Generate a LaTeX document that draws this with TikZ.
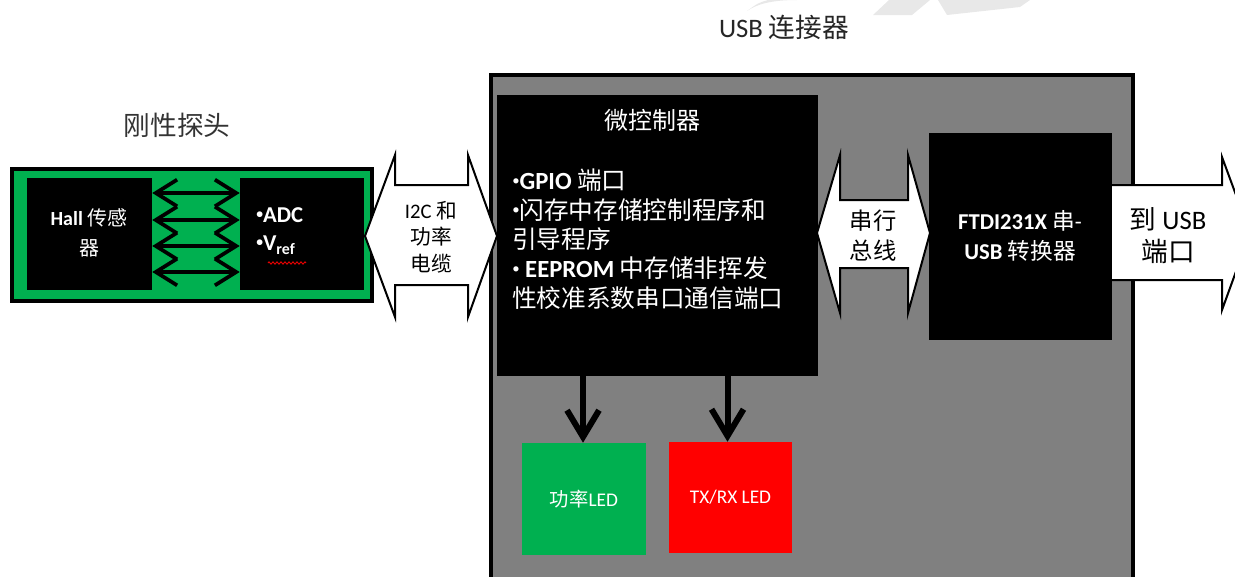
\documentclass[tikz,border=0pt]{standalone}
\usepackage{fontspec}
\setmainfont{Carlito}
\newfontfamily\cjk{Noto Sans CJK SC}
\usetikzlibrary{arrows.meta,calc,decorations.pathmorphing}
\definecolor{pgreen}{RGB}{0,176,80}
\definecolor{pgray}{RGB}{128,128,128}
\definecolor{pred}{RGB}{255,0,0}
\newcommand\mybul{\raisebox{0.18em}{\scalebox{0.6}{•}}}
\begin{document}
\begin{tikzpicture}[x=0.75pt,y=-0.75pt,
  blk/.style={draw=none,fill=black,inner sep=0pt,text=white},
  blockarrow/.style={draw=black,line width=1.5pt,fill=white,line join=miter},
  parrow/.style={line width=2.8pt,{Straight Barb[length=16pt,width=20pt]}-{Straight Barb[length=16pt,width=20pt]}},
  ledarrow/.style={line width=4.5pt,-{Straight Barb[length=20pt,width=24pt]}},
  wtxt/.style={text=white,inner sep=0pt,align=center},
  ktxt/.style={text=black,inner sep=0pt,align=center}]
\useasboundingbox (0,0) rectangle (1235,576);
\clip (0,0) rectangle (1235,576);
% watermark
\fill[gray!18] (747,11) .. controls (757,4) and (772,0) .. (797,0) -- (768,0) .. controls (758,3) .. (747,11) -- cycle;
\fill[gray!18] (873,15) -- (889,0) -- (930,0) -- (912,15) -- cycle;
\fill[gray!18] (947,15) -- (938,0) -- (1030,0) -- (1020,7) -- cycle;
% titles
\node[font=\fontsize{20}{24}\selectfont\cjk,text=black!80] (ptitle) at (177,125) {刚性探头};
\node[font=\fontsize{20}{24}\selectfont,text=black!85] (utitle) at (784,27) {USB {\cjk 连接器}};
% probe
\node[draw=black,line width=2.6pt,fill=pgreen,minimum width=270pt,minimum height=99pt,inner sep=0pt] (probe) at (192,235) {};
\node[blk,minimum width=93.75pt,minimum height=84pt] (hall) at (89.5,234) {};
\node[blk,minimum width=93pt,minimum height=84pt] (adc) at (302,234) {};
\node[wtxt,font=\fontsize{15}{22}\selectfont] (halltxt) at (89,233) {\textbf{Hall} {\cjk 传感}\\{\cjk 器}};
\node[wtxt,anchor=west,align=left,font=\fontsize{17}{21}\selectfont\bfseries] (adctxt) at (256,231) {\mybul ADC\\\mybul V\textsubscript{ref}};
\draw[red,line width=0.6pt,decorate,decoration={zigzag,amplitude=0.9pt,segment length=3pt}] (268,263) -- (306,263);
\foreach \dy in {-41,-14,12,38}{
  \draw[parrow] ($(hall.east)+(0,\dy)$) -- ($(adc.west)+(0,\dy)$);
}
% usb connector
\node[draw=black,line width=3pt,fill=pgray,minimum width=481.5pt,minimum height=400pt,inner sep=0pt,anchor=north west] (usb) at (488.5,72.5) {};
% I2C arrow
\draw[blockarrow] (365,236) -- (395,155) -- (395,185) -- (468,185) -- (468,155) -- (497,236) -- (468,317) -- (468,285) -- (395,285) -- (395,317) -- cycle;
\node[ktxt,font=\fontsize{15.5}{20}\selectfont] (i2ctxt) at (431,237) {I2C {\cjk 和}\\{\cjk 功率}\\{\cjk 电缆}};
% microcontroller
\node[blk,minimum width=240.75pt,minimum height=210.75pt] (micro) at (657.5,235.5) {};
\node[wtxt,font=\fontsize{18}{22}\selectfont\cjk] (mtitle) at (652,120) {微控制器};
\node[wtxt,anchor=north west,align=left,font=\fontsize{18.5}{22}\selectfont] (mbody) at (512,169)
  {\mybul\textbf{GPIO} {\cjk 端口}\\\mybul{\cjk 闪存中存储控制程序和}\\{\cjk 引导程序}\\\mybul\ \textbf{EEPROM} {\cjk 中存储非挥发}\\{\cjk 性校准系数串口通信端口}};
% serial arrow
\draw[blockarrow] (817,233) -- (840,155) -- (840,200) -- (908,200) -- (908,155) -- (930,233) -- (908,313) -- (908,268) -- (840,268) -- (840,313) -- cycle;
\node[ktxt,font=\fontsize{17.5}{22.5}\selectfont\cjk] (sertxt) at (873,236) {串行\\总线};
% usb port arrow
\draw[blockarrow] (1100,185) -- (1222,185) -- (1222,157) -- (1250,233) -- (1222,310) -- (1222,280) -- (1100,280) -- cycle;
\node[ktxt,font=\fontsize{20}{24}\selectfont] (porttxt) at (1168,236) {{\cjk 到} USB\\{\cjk 端口}};
% FTDI
\node[blk,minimum width=137.25pt,minimum height=155.25pt] (ftdi) at (1020.5,236.5) {};
\node[wtxt,font=\fontsize{17}{22.5}\selectfont] (ftditxt) at (1020,236) {\textbf{FTDI231X} {\cjk 串}-\\\textbf{USB} {\cjk 转换器}};
% LEDs
\node[draw=none,fill=pgreen,minimum width=93pt,minimum height=84pt,inner sep=0pt,text=white,font=\fontsize{14.5}{16}\selectfont] (gled) at (584,499) {{\cjk 功率}LED};
\node[draw=none,fill=pred,minimum width=92.25pt,minimum height=83.25pt,inner sep=0pt,text=white,font=\fontsize{14.5}{16}\selectfont] (rled) at (730.5,497.5) {TX/RX LED};
\draw[ledarrow] ($(micro.south -| gled.north)+(-1,0)$) -- ($(gled.north)+(-1,0)$);
\draw[ledarrow] ($(micro.south -| rled.north)+(-3,0)$) -- ($(rled.north)+(-3,0)$);
\end{tikzpicture}
\end{document}
